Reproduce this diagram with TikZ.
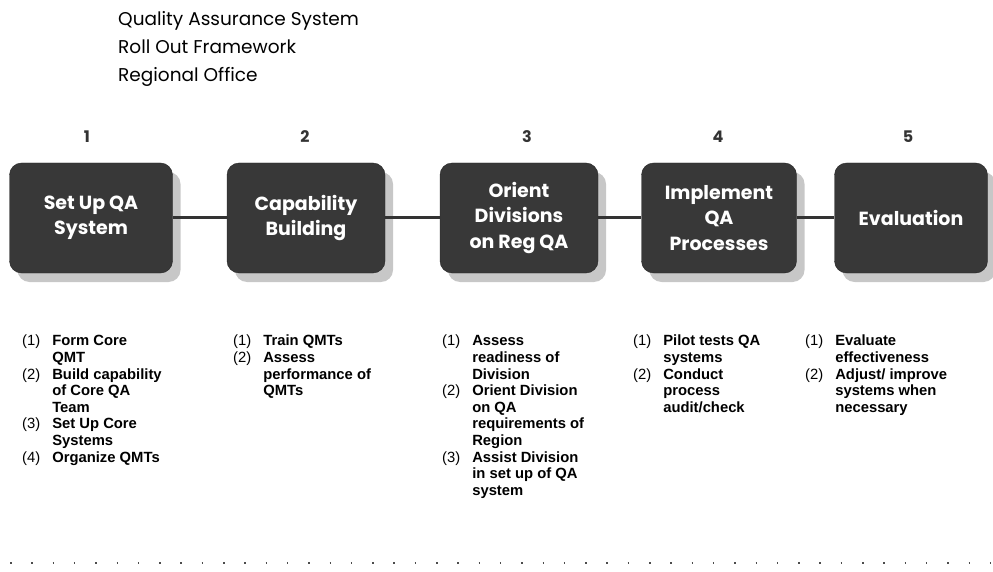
\documentclass[tikz,border=0pt]{standalone}
\usepackage{fontspec}
\setmainfont{Liberation Sans}
\newfontfamily\headfont{Poppins}
\usetikzlibrary{shadows, positioning}
\tikzset{
    % Boxes
    stage/.style={rectangle, rounded corners=12pt, fill=black!78, draw=black!85,
                  minimum width=158pt, minimum height=110pt, align=center,
                  text=white, font=\headfont\bfseries\fontsize{19}{25.5}\selectfont,
                  drop shadow={shadow xshift=8pt, shadow yshift=-9pt, fill=black!22, opacity=1}},
    stagenum/.style={font=\headfont\bfseries\fontsize{16}{18}\selectfont, text=black!80},
    % Lists and lines
    tasks/.style={anchor=north west, inner sep=0pt, align=left,
                  font=\fontsize{14.8}{16.6}\selectfont},
    link/.style={line width=3pt, black!80},
    dotline/.style={line width=2pt, black!70, dash pattern=on 1.5pt off 19.8pt}
}
\newcommand{\itm}[1]{\textnormal{(#1)}}

\begin{document}
\begin{tikzpicture}[x=1pt, y=-1pt]
\useasboundingbox (0,0) rectangle (993,572);

% title
\node[anchor=west, inner sep=0pt, align=left, font=\headfont\fontsize{18.5}{28}\selectfont] (title)
    at (118,49) {Quality Assurance System\\Roll Out Framework\\Regional Office};

% stages
\node[stage, minimum width=163pt] (setup) at (91,218) {Set Up QA\\System};
\node[stage] (capab) at (306,218) {Capability\\Building};
\node[stage] (orient) at (519,218) {Orient\\Divisions\\on Reg QA};
\node[stage, minimum width=155pt] (implem) at (719,218) {Implement\\QA\\Processes};
\node[stage, minimum width=153pt] (evalu) at (911,218) {Evaluation};

\node[stagenum] (n1) at (87,137) {1};
\node[stagenum] (n2) at (305,137) {2};
\node[stagenum] (n3) at (527,137) {3};
\node[stagenum] (n4) at (718,137) {4};
\node[stagenum] (n5) at (908,137) {5};

\begin{scope}[on background layer/.try]
\draw[link] (setup) -- (capab);
\draw[link] (capab) -- (orient);
\draw[link] (orient) -- (implem);
\draw[link] (implem) -- (evalu);
\end{scope}

% task lists
\node[tasks] (t1) at (22,334) {\bfseries
  \begin{tabular}{@{}l@{\hspace{12pt}}l@{}}
  \itm1 & Form Core\\ & QMT\\
  \itm2 & Build capability\\ & of Core QA\\ & Team\\
  \itm3 & Set Up Core\\ & Systems\\
  \itm4 & Organize QMTs
  \end{tabular}};
\node[tasks] (t2) at (233,334) {\bfseries
  \begin{tabular}{@{}l@{\hspace{12pt}}l@{}}
  \itm1 & Train QMTs\\
  \itm2 & Assess\\ & performance of\\ & QMTs
  \end{tabular}};
\node[tasks] (t3) at (442,334) {\bfseries
  \begin{tabular}{@{}l@{\hspace{12pt}}l@{}}
  \itm1 & Assess\\ & readiness of\\ & Division\\
  \itm2 & Orient Division\\ & on QA\\ & requirements of\\ & Region\\
  \itm3 & Assist Division\\ & in set up of QA\\ & system
  \end{tabular}};
\node[tasks] (t4) at (633,334) {\bfseries
  \begin{tabular}{@{}l@{\hspace{12pt}}l@{}}
  \itm1 & Pilot tests QA\\ & systems\\
  \itm2 & Conduct\\ & process\\ & audit/check
  \end{tabular}};
\node[tasks] (t5) at (805,334) {\bfseries
  \begin{tabular}{@{}l@{\hspace{12pt}}l@{}}
  \itm1 & Evaluate\\ & effectiveness\\
  \itm2 & Adjust/ improve\\ & systems when\\ & necessary
  \end{tabular}};

% dotted rule
\coordinate (dl) at (10,563);
\coordinate (dr) at (990,563);
\draw[dotline] (dl) -- (dr);

\end{tikzpicture}
\end{document}
